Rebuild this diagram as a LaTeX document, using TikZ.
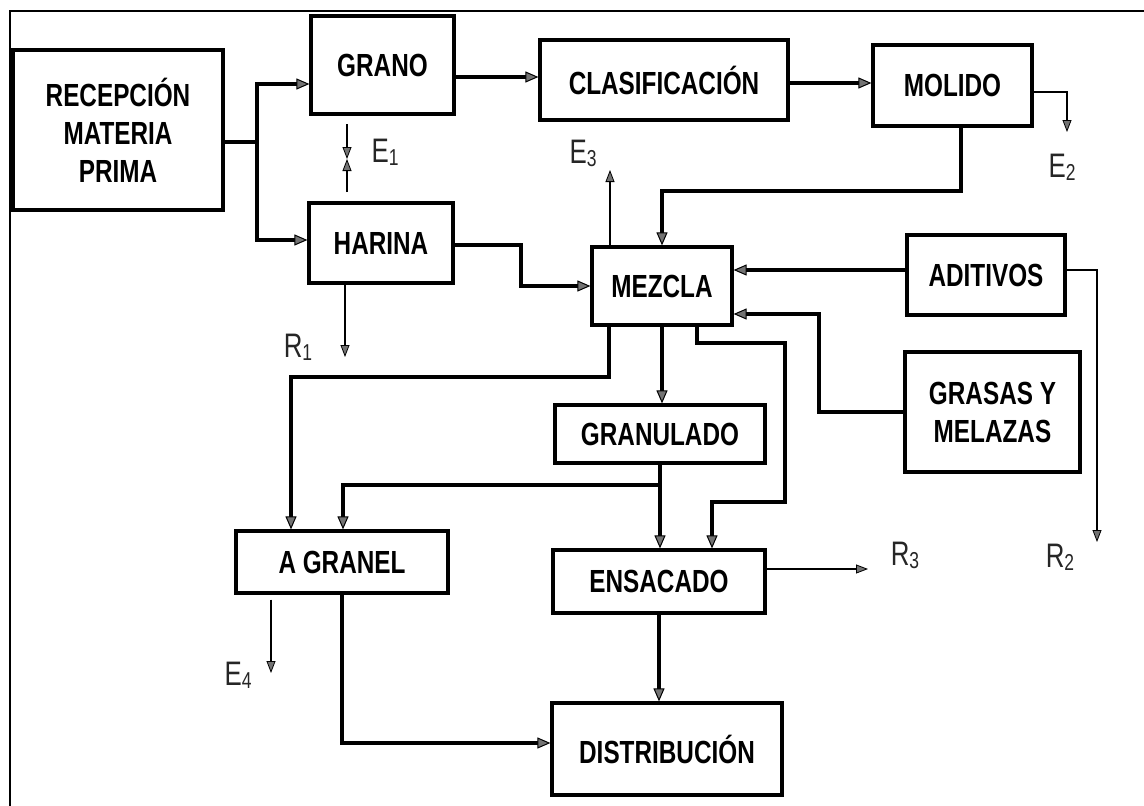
\documentclass[tikz,border=0pt]{standalone}
\usepackage{fontspec}
\setmainfont{Liberation Sans}[FakeStretch=0.76]
\usetikzlibrary{arrows.meta}
\newcommand{\sbs}[1]{\raisebox{-3pt}{\fontsize{23}{23}\selectfont #1}}
\begin{document}
\begin{tikzpicture}[x=1pt,y=-1pt,
  box/.style={draw, line width=3.2pt, inner sep=0pt, align=center,
    font=\bfseries\fontsize{32}{38}\selectfont},
  arr/.style={line width=3.2pt, -{Triangle[length=13pt,width=11pt,line width=1pt,fill=black!55]}},
  thk/.style={line width=3.2pt},
  tarr/.style={line width=1.5pt, -{Triangle[length=12pt,width=9pt,line width=0.8pt,fill=black!55]}},
  lbl/.style={font=\fontsize{34}{36}\selectfont, inner sep=0pt, text=black!85}]
\useasboundingbox (0,0) rectangle (1144,806);
\draw[line width=2.5pt] (10,806) -- (10,11) -- (1144,11);

% boxes
\node[box, minimum width=210pt, minimum height=160pt] (rec) at (118,130) {RECEPCIÓN\\MATERIA\\PRIMA};
\node[box, minimum width=143pt, minimum height=98pt] (grano) at (382.5,65) {GRANO};
\node[box, minimum width=144pt, minimum height=80pt] (harina) at (381,243) {HARINA};
\node[box, minimum width=248pt, minimum height=80pt] (clas) at (664,80) {CLASIFICACIÓN};
\node[box, minimum width=159pt, minimum height=81pt] (molido) at (952.5,85.5) {MOLIDO};
\node[box, minimum width=140pt, minimum height=78pt] (mezcla) at (662,286) {MEZCLA};
\node[box, minimum width=158pt, minimum height=80pt] (aditivos) at (986,275) {ADITIVOS};
\node[box, minimum width=175pt, minimum height=120pt] (grasas) at (992.5,412) {GRASAS Y\\MELAZAS};
\node[box, minimum width=210pt, minimum height=58pt] (granulado) at (660,434) {GRANULADO};
\node[box, minimum width=212pt, minimum height=62pt] (agranel) at (342,562) {A GRANEL};
\node[box, minimum width=212pt, minimum height=63pt] (ensacado) at (659,581.5) {ENSACADO};
\node[box, minimum width=230pt, minimum height=92pt] (distrib) at (667,749) {DISTRIBUCIÓN};

% labels
\node[lbl] (le1) at (385,152) {E\sbs{1}};
\node[lbl] (le2) at (1062,167) {E\sbs{2}};
\node[lbl] (le3) at (583,153) {E\sbs{3}};
\node[lbl] (le4) at (238,675) {E\sbs{4}};
\node[lbl] (lr1) at (298,347) {R\sbs{1}};
\node[lbl] (lr2) at (1060,557) {R\sbs{2}};
\node[lbl] (lr3) at (905,555) {R\sbs{3}};

% coordinates
\coordinate (j1) at (257,142);
\coordinate (e1t) at (347,124);
\coordinate (e1m) at (347,159);
\coordinate (e1b) at (347,192);
\coordinate (e2) at (1067,132);
\coordinate (m1) at (662,191);
\coordinate (e3) at (610,170);
\coordinate (h1) at (521,245);
\coordinate (r1) at (345,357);
\coordinate (r2) at (1097,542);
\coordinate (g1) at (819,314);
\coordinate (p1) at (785,343);
\coordinate (p2) at (712,502);
\coordinate (q1) at (291,377);
\coordinate (k1) at (660,485);
\coordinate (r3) at (868,569);
\coordinate (e4) at (271,673);

% connectors
\draw[thk] ([yshift=-12pt]rec.east) -- (j1);
\draw[arr] (j1) |- ([yshift=-19pt]grano.west);
\draw[arr] (j1) |- ([yshift=3pt]harina.west);
\draw[tarr] (e1t) -- (e1m);
\draw[tarr] (e1b) -- (e1m);
\draw[arr] ([yshift=-12pt]grano.east) -- ([yshift=-12pt]grano.east -| clas.west);
\draw[arr] ([yshift=-3pt]clas.east) -- ([yshift=-3pt]clas.east -| molido.west);
\draw[tarr] ([yshift=-6.5pt]molido.east) -| (e2);
\draw[arr] ([xshift=8.5pt]molido.south) |- (m1) -- (mezcla.north);
\draw[tarr] ([xshift=-52pt]mezcla.north) -- (e3);
\draw[arr] ([yshift=-2pt]harina.east) -- (h1) |- (mezcla.west);
\draw[tarr] ([xshift=-36pt]harina.south) -- (r1);
\draw[arr] ([yshift=5pt]aditivos.west) -- ([yshift=5pt]aditivos.west -| mezcla.east);
\draw[tarr] ([yshift=5pt]aditivos.east) -| (r2);
\draw[arr] (grasas.west) -| (g1) -- (g1 -| mezcla.east);
\draw[arr] ([xshift=35pt]mezcla.south) |- (p1) |- (p2) -- (p2 |- ensacado.north);
\draw[arr] (mezcla.south) -- (mezcla.south |- granulado.north);
\draw[arr] ([xshift=-53pt]mezcla.south) |- (q1) -- (q1 |- agranel.north);
\draw[thk] (granulado.south) -- (k1);
\draw[arr] (k1) -| ([xshift=1pt]agranel.north);
\draw[arr] (k1) -- (k1 |- ensacado.north);
\draw[tarr] ([yshift=12.5pt]ensacado.east) -- (r3);
\draw[arr] (ensacado.south) -- (ensacado.south |- distrib.north);
\draw[tarr] ([xshift=-71pt,yshift=-5pt]agranel.south) -- (e4);
\draw[arr] (agranel.south) |- ([yshift=6pt]distrib.west);
\end{tikzpicture}
\end{document}
